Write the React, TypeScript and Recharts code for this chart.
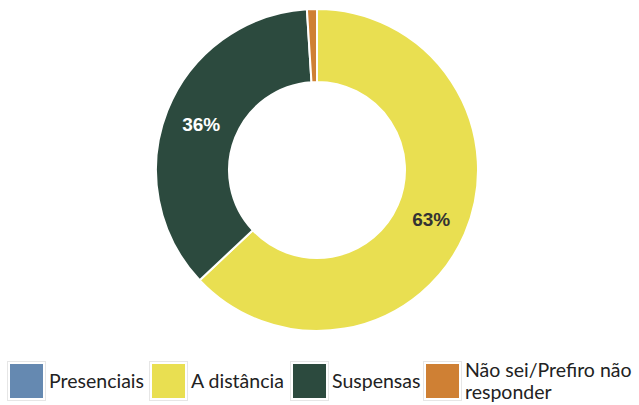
import { Cell, Legend, Pie, PieChart } from "recharts";

const categories = ["Presenciais", "A distância", "Suspensas", "Não sei/Prefiro não responder"];
const values = [0, 63, 36, 1];
const colors = ["#6589B1", "#E9DF51", "#2C4A3E", "#CF8034"];
const labelColors = ["#333333", "#333333", "#FFFFFF", "#333333"];

// legend item left edges (px)
const legendLeft = [7, 149, 290, 423];

const data = categories.map((name, i) => ({ name, value: values[i] }));

const RAD = Math.PI / 180;

function renderLabel(props: any) {
  const { cx, cy, midAngle, innerRadius, outerRadius, index, value } = props;
  if (value < 5) return null;
  const r = (innerRadius + outerRadius) / 2;
  const x = cx + r * Math.cos(-midAngle * RAD);
  const y = cy + r * Math.sin(-midAngle * RAD);
  return (
    <text
      x={x}
      y={y}
      fill={labelColors[index]}
      textAnchor="middle"
      dominantBaseline="central"
      style={{ fontFamily: "Liberation Sans, Arial, sans-serif", fontSize: 19, fontWeight: 700 }}
    >
      {`${value}%`}
    </text>
  );
}

function renderLegend() {
  return (
    <div
      style={{
        position: "relative",
        height: 42,
        fontFamily: "Lato, sans-serif",
        fontSize: 19.5,
        color: "#222",
        lineHeight: "22px",
      }}
    >
      {categories.map((c, i) => (
        <div
          key={c}
          style={{
            position: "absolute",
            left: legendLeft[i],
            top: 0,
            height: 42,
            display: "flex",
            alignItems: "center",
          }}
        >
          <div style={{ border: "1px solid #e6e6e6", padding: 2, marginRight: 3 }}>
            <div style={{ width: 33, height: 34, background: colors[i] }} />
          </div>
          <span style={{ width: i === 3 ? 180 : undefined, whiteSpace: i === 3 ? "normal" : "nowrap" }}>{c}</span>
        </div>
      ))}
    </div>
  );
}

export default function App() {
  return (
    <div style={{ position: "absolute", left: 0, top: 0, width: 639, height: 405, background: "#fff" }}>
      <PieChart width={639} height={405} margin={{ top: 0, right: 0, bottom: 0, left: 0 }}>
        <Pie
          data={data}
          dataKey="value"
          nameKey="name"
          cx={317}
          cy={170}
          innerRadius={88}
          outerRadius={161}
          startAngle={90}
          endAngle={-270}
          stroke="#ffffff"
          strokeWidth={2}
          label={renderLabel}
          labelLine={false}
          isAnimationActive={false}
        >
          {data.map((d, i) => (
            <Cell key={d.name} fill={colors[i]} />
          ))}
        </Pie>
        <Legend content={renderLegend} wrapperStyle={{ left: 0, top: 360, width: 639 }} />
      </PieChart>
    </div>
  );
}
